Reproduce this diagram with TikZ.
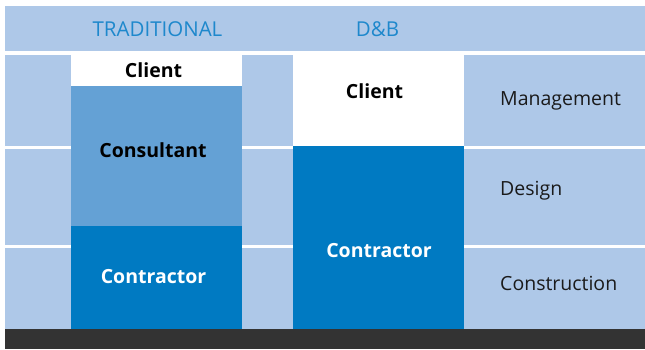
\documentclass[tikz,border=0pt]{standalone}
\usepackage{fontspec}
\setmainfont{Open Sans}
\usetikzlibrary{positioning}

\definecolor{bandblue}{RGB}{174,200,232}
\definecolor{midblue}{RGB}{100,161,213}
\definecolor{darkblue}{RGB}{0,122,194}
\definecolor{headblue}{RGB}{30,136,204}
\definecolor{darkbar}{RGB}{51,51,51}
\definecolor{inkgrey}{RGB}{26,26,26}

\tikzset{
  header/.style={anchor=base, text=headblue, inner sep=0pt, font=\fontsize{20.5}{24}\selectfont},
  role/.style={anchor=base, inner sep=0pt, font=\fontsize{19.5}{23}\selectfont\bfseries},
  stage/.style={anchor=base west, inner sep=0pt, text=inkgrey, font=\fontsize{19.5}{23}\selectfont}
}

\begin{document}
\begin{tikzpicture}[x=1pt, y=-1pt]
    \useasboundingbox (0, 0) rectangle (645, 349);
    \fill[white] (0, 0) rectangle (645, 349);

    % Background bands
    \foreach \ya/\yb in {6/51, 55/146, 149/245, 248/329} {
      \fill[bandblue] (5, \ya) rectangle (645, \yb);
    }
    \fill[darkbar] (5, 329) rectangle (645, 349);

    % Traditional column
    \fill[white] (71, 51) rectangle (242, 86);
    \fill[midblue] (71, 86) rectangle (242, 226);
    \fill[darkblue] (71, 226) rectangle (242, 329);

    % D&B column
    \fill[white] (293, 51) rectangle (464, 146);
    \fill[darkblue] (293, 146) rectangle (464, 329);

    % Headings
    \node[header] (trad) at (157.5, 36.5) {TRADITIONAL};
    \node[header] (db) at (377.5, 36.5) {D\&B};

    % Roles
    \node[role, text=black] (tradclient) at (153.5, 77) {Client};
    \node[role, text=black] (consultant) at (153, 157) {Consultant};
    \node[role, text=white] (tradcontractor) at (153.5, 283) {Contractor};
    \node[role, text=black] (dbclient) at (374.5, 98) {Client};
    \node[role, text=white] (dbcontractor) at (379, 257) {Contractor};

    % Stages
    \node[stage] (management) at (500, 105) {Management};
    \node[stage] (design) at (500, 195) {Design};
    \node[stage] (construction) at (500, 290) {Construction};
  \end{tikzpicture}
\end{document}
